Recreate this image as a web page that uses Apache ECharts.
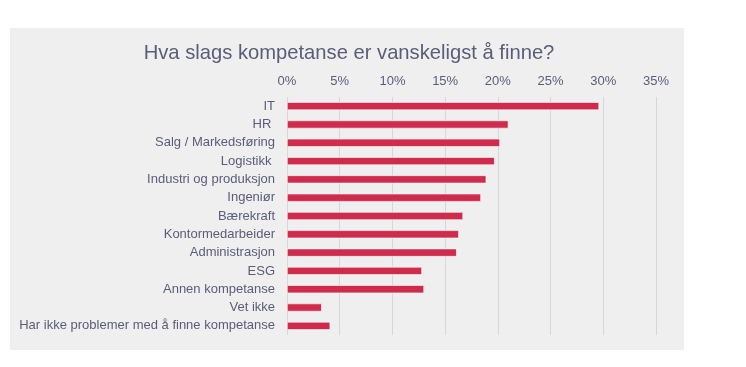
<!DOCTYPE html>
<html>
<head>
<meta charset="utf-8">
<script src="https://cdn.jsdelivr.net/npm/echarts@6/dist/echarts.min.js"></script>
<style>
html,body{margin:0;padding:0;background:#fff;}
#chart{width:746px;height:367px;}
</style>
</head>
<body>
<div id="chart"></div>
<script>
const categories = [
  'IT', 'HR ', 'Salg / Markedsføring', 'Logistikk ', 'Industri og produksjon',
  'Ingeniør', 'Bærekraft', 'Kontormedarbeider', 'Administrasjon', 'ESG',
  'Annen kompetanse', 'Vet ikke', 'Har ikke problemer med å finne kompetanse'
];
const values = [0.296, 0.210, 0.202, 0.197, 0.189, 0.184, 0.167, 0.163, 0.161, 0.128, 0.130, 0.033, 0.041];
const tickLabels = ['0%', '5%', '10%', '15%', '20%', '25%', '30%', '35%'];
const titleText = 'Hva slags kompetanse er vanskeligst å finne?';

const textColor = '#595D78';
const chart = echarts.init(document.getElementById('chart'), null, {renderer: 'canvas'});
chart.setOption({
  backgroundColor: '#ffffff',
  animation: false,
  graphic: [{
    type: 'rect', z: -10, silent: true,
    shape: {x: 10, y: 28, width: 674, height: 322},
    style: {fill: '#EFEFEF'}
  }],
  title: {
    text: titleText,
    left: 344, top: 38, textAlign: 'center',
    textStyle: {fontFamily: 'Liberation Sans, Arial, sans-serif', fontSize: 20.2, fontWeight: 'normal', color: textColor}
  },
  grid: {left: 287, right: 90, top: 97, bottom: 32, containLabel: false},
  xAxis: {
    type: 'value', position: 'top', min: 0, max: 0.35, interval: 0.05,
    axisLine: {show: false}, axisTick: {show: false},
    splitLine: {show: true, lineStyle: {color: '#D6D6DE', width: 1}},
    axisLabel: {
      color: textColor, fontSize: 13, fontFamily: 'Liberation Sans, Arial, sans-serif', margin: 9,
      formatter: function (v) { return tickLabels[Math.round(v / 0.05)]; }
    }
  },
  yAxis: {
    type: 'category', data: categories, inverse: true,
    axisLine: {show: false}, axisTick: {show: false},
    axisLabel: {color: textColor, fontSize: 13, fontFamily: 'Liberation Sans, Arial, sans-serif', margin: 12}
  },
  series: [{
    type: 'bar', data: values, barWidth: 8,
    itemStyle: {color: '#CF2B4C', borderColor: '#ffffff', borderWidth: 0.6}
  }]
});
</script>
</body>
</html>
